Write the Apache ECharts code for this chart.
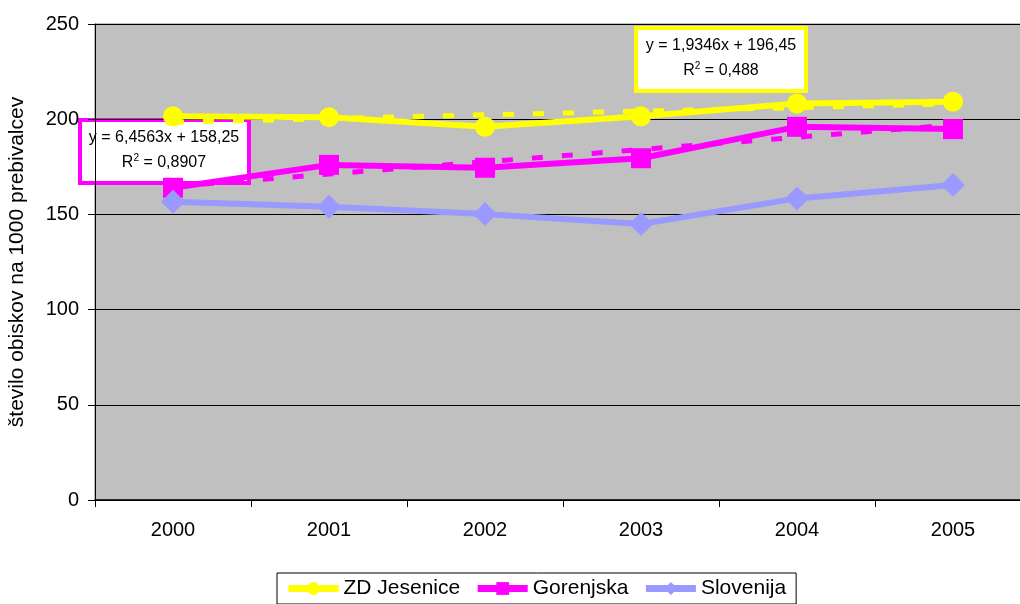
<!DOCTYPE html>
<html>
<head>
<meta charset="utf-8">
<script src="https://cdn.jsdelivr.net/npm/echarts@6/dist/echarts.min.js"></script>
<style>html,body{margin:0;padding:0;background:#fff;}#c{width:1020px;height:604px;}</style>
</head>
<body>
<div id="c"></div>
<script>
const years = ['2000', '2001', '2002', '2003', '2004', '2005'];
const zdJesenice = [201.5, 201, 196, 201.5, 208.3, 209.2];
const gorenjska = [164, 176, 174.5, 179.5, 196, 194.8];
const slovenija = [156.7, 154, 150.2, 145, 158.4, 165.4];
// trend line values (linear trend lines shown dashed)
const zdTrend = [198.4, 200.3, 202.3, 204.2, 206.1, 208.1];
const gorTrend = [164.7, 171.2, 177.6, 184.1, 190.5, 197.0];
const yTicks = [0, 50, 100, 150, 200, 250];

const FONT = 'Arial, "Liberation Sans", sans-serif';
const chart = echarts.init(document.getElementById('c'), null, {renderer: 'canvas'});

function mainSeries(name, data, color, symbol, size) {
  return {
    name: name, type: 'line', data: data, symbol: symbol, symbolSize: size,
    lineStyle: {color: color, width: 6}, itemStyle: {color: color},
    z: 5, animation: false
  };
}
function trendSeries(name, data, color) {
  return {
    name: name, type: 'line', data: data, symbol: 'none',
    lineStyle: {color: color, width: 5, type: [11, 19]},
    z: 3, animation: false, silent: true
  };
}

chart.setOption({
  backgroundColor: '#ffffff',
  animation: false,
  grid: {
    left: 95, top: 24, width: 936, height: 476,
    outerBoundsMode: 'none', containLabel: false,
    show: true, backgroundColor: '#c0c0c0', borderColor: '#808080', borderWidth: 1
  },
  xAxis: {
    type: 'category', data: years, boundaryGap: true,
    axisLine: {lineStyle: {color: '#000', width: 1.5}},
    axisTick: {show: true, length: 7, lineStyle: {color: '#000'}},
    axisLabel: {color: '#000', fontSize: 20, fontFamily: FONT, margin: 20},
    splitLine: {show: false}
  },
  yAxis: {
    type: 'value', min: yTicks[0], max: yTicks[yTicks.length - 1], interval: 50,
    name: 'število obiskov na 1000 prebivalcev', nameLocation: 'middle', nameGap: 67,
    nameTextStyle: {color: '#000', fontSize: 21, fontFamily: FONT},
    axisLine: {show: true, lineStyle: {color: '#000', width: 1}},
    axisTick: {show: true, length: 7, lineStyle: {color: '#000'}},
    axisLabel: {color: '#000', fontSize: 20, fontFamily: FONT, margin: 16},
    splitLine: {show: true, lineStyle: {color: '#000', width: 1}}
  },
  legend: {
    data: ['ZD Jesenice', 'Gorenjska', 'Slovenija'],
    left: 277, top: 573,
    padding: [5, 10, 5, 8], itemGap: 14, itemWidth: 50, itemHeight: 16,
    backgroundColor: '#fff', borderColor: '#000', borderWidth: 1,
    lineStyle: {width: 7},
    textStyle: {color: '#000', fontSize: 21, fontFamily: FONT}
  },
  series: [
    trendSeries('trend1', zdTrend, '#ffff00'),
    trendSeries('trend2', gorTrend, '#ff00ff'),
    mainSeries('ZD Jesenice', zdJesenice, '#ffff00', 'circle', 20),
    mainSeries('Gorenjska', gorenjska, '#ff00ff', 'rect', 20),
    mainSeries('Slovenija', slovenija, '#9999ff', 'diamond', 24)
  ],
  graphic: [
    {
      type: 'group', left: 78, top: 118, z: 100,
      children: [
        {type: 'rect', shape: {x: 2, y: 2, width: 169, height: 63},
         style: {fill: '#fff', stroke: '#ff00ff', lineWidth: 4}},
        {type: 'text', x: 86, y: 20, style: {text: 'y = 6,4563x + 158,25', fill: '#000',
          font: '16px ' + FONT, align: 'center', verticalAlign: 'middle'}},
        {type: 'text', x: 86, y: 45, style: {
          text: '{a|R}{s|2}{a| = 0,8907}', align: 'center', verticalAlign: 'middle',
          rich: {a: {fontSize: 16, fontFamily: FONT, fill: '#000', lineHeight: 20},
                 s: {fontSize: 10, fontFamily: FONT, fill: '#000', verticalAlign: 'top', lineHeight: 20, padding: [0, 0, 8, 0]}}}}
      ]
    },
    {
      type: 'group', left: 634, top: 26, z: 100,
      children: [
        {type: 'rect', shape: {x: 2, y: 2, width: 170, height: 63},
         style: {fill: '#fff', stroke: '#ffff00', lineWidth: 4}},
        {type: 'text', x: 87, y: 20, style: {text: 'y = 1,9346x + 196,45', fill: '#000',
          font: '16px ' + FONT, align: 'center', verticalAlign: 'middle'}},
        {type: 'text', x: 87, y: 45, style: {
          text: '{a|R}{s|2}{a| = 0,488}', align: 'center', verticalAlign: 'middle',
          rich: {a: {fontSize: 16, fontFamily: FONT, fill: '#000', lineHeight: 20},
                 s: {fontSize: 10, fontFamily: FONT, fill: '#000', verticalAlign: 'top', lineHeight: 20, padding: [0, 0, 8, 0]}}}}
      ]
    }
  ]
});
</script>
</body>
</html>
